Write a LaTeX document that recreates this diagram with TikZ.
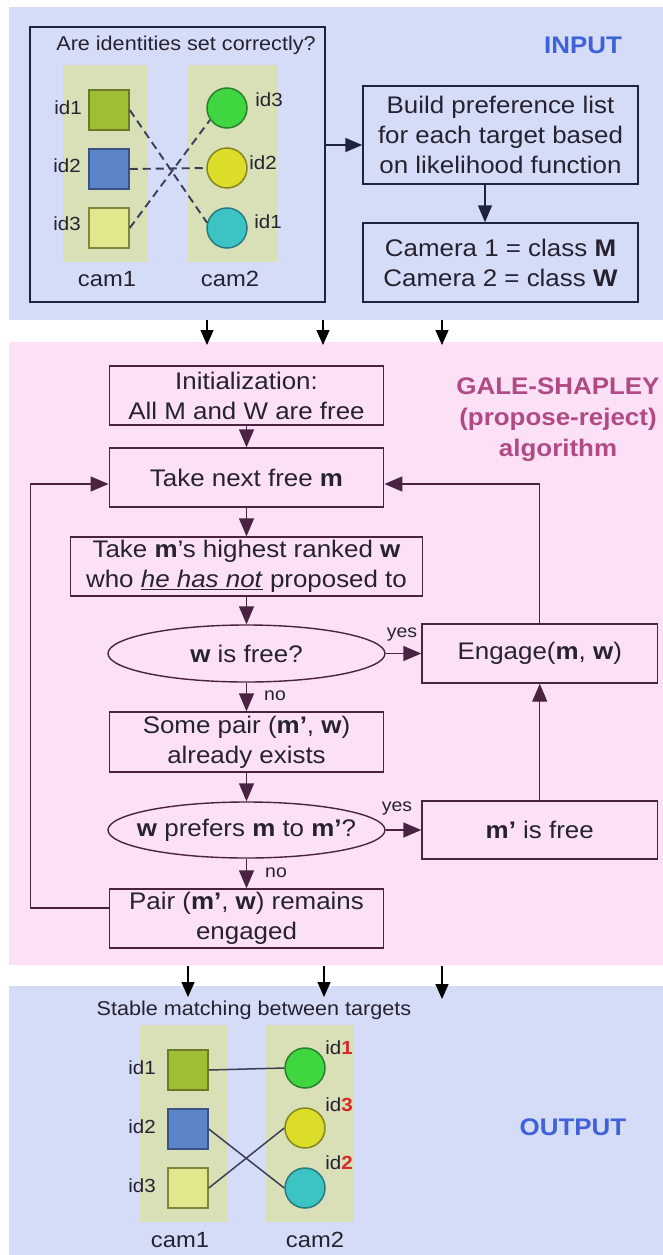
\documentclass[tikz,border=0pt]{standalone}
\usepackage{fontspec}
\setmainfont{Liberation Sans}[FakeStretch=1.08]
\usetikzlibrary{arrows.meta,shapes.geometric,calc}

\definecolor{inbg}{HTML}{D4DCF8}
\definecolor{pkbg}{HTML}{FCE0F5}
\definecolor{cambg}{HTML}{D9DFB6}
\definecolor{inline}{HTML}{1E2440}
\definecolor{pline}{HTML}{4A2341}
\definecolor{ink}{HTML}{262230}
\definecolor{titleblue}{HTML}{3F62D8}
\definecolor{titlepink}{HTML}{B04A84}
\definecolor{redd}{HTML}{D42A2A}
\definecolor{sqA}{HTML}{9FBE34}
\definecolor{sqAd}{HTML}{6A7A28}
\definecolor{sqB}{HTML}{5B84C9}
\definecolor{sqBd}{HTML}{3B5384}
\definecolor{sqC}{HTML}{E2E68C}
\definecolor{sqCd}{HTML}{84843E}
\definecolor{ciA}{HTML}{3FD63F}
\definecolor{ciAd}{HTML}{2A8030}
\definecolor{ciB}{HTML}{DCDC2A}
\definecolor{ciBd}{HTML}{86861E}
\definecolor{ciC}{HTML}{3CC3C3}
\definecolor{ciCd}{HTML}{2A7A80}
\definecolor{linkc}{HTML}{3A3F55}

\begin{document}
\begin{tikzpicture}[x=1pt,y=-1pt,
  ibox/.style={draw=inline, line width=1.4pt, align=center, inner sep=0pt,
    text=ink, font=\fontsize{24}{30}\selectfont},
  pbox/.style={draw=pline, line width=1.4pt, align=center, inner sep=0pt,
    text=ink, font=\fontsize{24}{30}\selectfont},
  pell/.style={pbox, ellipse},
  parr/.style={draw=pline, line width=1.4pt, -{Triangle[length=18pt,width=15pt]}},
  iarr/.style={draw=inline, line width=1.4pt, -{Triangle[length=17pt,width=14pt]}},
  garr/.style={draw=black, line width=1.3pt, -{Triangle[length=15pt,width=13pt]}},
  camcol/.style={fill=cambg, draw=none, inner sep=0pt},
  sq/.style={rectangle, minimum size=40, inner sep=0pt, line width=1.5pt},
  circ/.style={circle, minimum size=40, inner sep=0pt, line width=1.5pt},
  lbl/.style={text=ink, inner sep=0pt, font=\fontsize{19}{22}\selectfont},
  camlbl/.style={text=ink, inner sep=0pt, font=\fontsize{22}{26}\selectfont},
  small/.style={text=ink, inner sep=0pt, font=\fontsize{18}{20}\selectfont},
  dashl/.style={draw=linkc, line width=1.9pt, dash pattern=on 8pt off 5pt},
  solidl/.style={draw=linkc, line width=1.5pt},
  title/.style={inner sep=0pt, align=center, font=\bfseries\fontsize{24}{31}\selectfont}
]
\useasboundingbox (0,0) rectangle (663,1255);
\fill[white] (0,0) rectangle (663,1255);

% section backgrounds
\fill[inbg] (9,7) rectangle (663,320);
\fill[pkbg] (9,342) rectangle (663,965);
\fill[inbg] (9,986) rectangle (663,1255);

% ---------------- INPUT ----------------
\node[ibox, minimum width=295, minimum height=275] (idbox) at (177.5,164.5) {};
\node[text=ink, inner sep=0pt, font=\fontsize{20}{24}\selectfont] (quest) at (186,45) {Are identities set correctly?};

\node[camcol, minimum width=85.4, minimum height=197] (col1) at (105.3,163.5) {};
\node[camcol, minimum width=89, minimum height=197] (col2) at (232.5,163.5) {};

\node[sq, fill=sqA, draw=sqAd] (s1) at (109,110) {};
\node[sq, fill=sqB, draw=sqBd] (s2) at (109,169) {};
\node[sq, fill=sqC, draw=sqCd] (s3) at (109,228) {};
\node[circ, fill=ciA, draw=ciAd] (c1) at (227,108) {};
\node[circ, fill=ciB, draw=ciBd] (c2) at (227,168) {};
\node[circ, fill=ciC, draw=ciCd] (c3) at (227,228) {};

\node[lbl] (ls1) at (68,108) {id1};
\node[lbl] (ls2) at (67,166) {id2};
\node[lbl] (ls3) at (67,224) {id3};
\node[lbl] (lc1) at (269,100) {id3};
\node[lbl] (lc2) at (263,163) {id2};
\node[lbl] (lc3) at (268,222) {id1};

\draw[dashl] (s1.east) -- (c3.165);
\draw[dashl] (s2.east) -- (c2.west);
\draw[dashl] (s3.east) -- (c1.215);

\node[camlbl] (cam1) at (107,279) {cam1};
\node[camlbl] (cam2) at (230,279) {cam2};

\node[ibox, minimum width=275, minimum height=98] (build) at (500.5,135)
  {Build preference list\\for each target based\\on likelihood function};
\node[ibox, minimum width=275, minimum height=79] (camcls) at (500.5,262.5)
  {Camera 1 = class \textbf{M}\\Camera 2 = class \textbf{W}};
\node[title, text=titleblue] (tin) at (583,45) {INPUT};

\coordinate (ya) at (0,145);
\coordinate (xb) at (485,0);
\draw[iarr] (idbox.east |- ya) -- (build.west |- ya);
\draw[iarr] (build.south -| xb) -- (camcls.north -| xb);

% hand-over arrows into the algorithm
\coordinate (ga1) at (207,320); \coordinate (gb1) at (207,345);
\coordinate (ga2) at (323,320); \coordinate (gb2) at (323,345);
\coordinate (ga3) at (442,320); \coordinate (gb3) at (442,345);
\draw[garr] (ga1) -- (gb1);
\draw[garr] (ga2) -- (gb2);
\draw[garr] (ga3) -- (gb3);

% ---------------- GALE-SHAPLEY ----------------
\node[title, text=titlepink] (tgs) at (558,420) {GALE-SHAPLEY\\(propose-reject)\\algorithm};

\node[pbox, minimum width=274.5, minimum height=59] (init) at (246.5,395.5)
  {Initialization:\\All M and W are free};
\node[pbox, minimum width=274.5, minimum height=59] (next) at (246.5,477.5)
  {Take next free \textbf{m}};
\node[pbox, minimum width=352, minimum height=59] (take) at (246.5,566.5)
  {Take \textbf{m}'s highest ranked \textbf{w}\\who \underline{\textit{he has not}} proposed to};
\node[pell, minimum width=277, minimum height=57] (isfree) at (246.5,653.5)
  {\makebox[0pt]{\textbf{w} is free?}};
\node[pbox, minimum width=235.5, minimum height=59] (engage) at (539.75,653.5)
  {Engage(\textbf{m}, \textbf{w})};
\node[pbox, minimum width=274.5, minimum height=60] (some) at (246.5,742)
  {Some pair (\textbf{m'}, \textbf{w})\\already exists};
\node[pell, minimum width=277, minimum height=56] (prefers) at (246.5,830)
  {\makebox[0pt]{\textbf{w} prefers \textbf{m} to \textbf{m'}?}};
\node[pbox, minimum width=235.5, minimum height=58] (mfree) at (539.75,830)
  {\textbf{m'} is free};
\node[pbox, minimum width=274.5, minimum height=59] (pair) at (246.5,918.5)
  {Pair (\textbf{m'}, \textbf{w}) remains\\engaged};

\draw[parr] (init.south) -- (next.north);
\draw[parr] (next.south) -- (take.north);
\draw[parr] (take.south) -- (isfree.north);
\draw[parr] (isfree.south) -- (some.north);
\draw[parr] (some.south) -- (prefers.north);
\draw[parr] (prefers.south) -- (pair.north);
\draw[parr] (isfree.east) -- (engage.west);
\draw[parr] (prefers.east) -- (mfree.west);
\draw[parr] (mfree.north) -- (engage.south);

\node[small] (yes1) at (402,635) {yes};
\node[small] (yes2) at (397,809) {yes};
\node[small] (no1) at (275,696) {no};
\node[small] (no2) at (276,873) {no};

\coordinate (ly) at (0,484);
\coordinate (lx) at (30.5,0);
\coordinate (py) at (0,908);
\draw[parr] (engage.north) -- (engage.north |- ly) -- (next.east |- ly);
\draw[parr] (pair.west |- py) -| (lx |- ly) -- (next.west |- ly);

% hand-over arrows into the result
\coordinate (ha1) at (188,966); \coordinate (hb1) at (188,997);
\coordinate (ha2) at (324,966); \coordinate (hb2) at (324,997);
\coordinate (ha3) at (442,966); \coordinate (hb3) at (442,999);
\draw[garr] (ha1) -- (hb1);
\draw[garr] (ha2) -- (hb2);
\draw[garr] (ha3) -- (hb3);

% ---------------- OUTPUT ----------------
\node[text=ink, inner sep=0pt, font=\fontsize{20}{24}\selectfont] (stable) at (254,1010) {Stable matching between targets};

\node[camcol, minimum width=88.5, minimum height=197] (ocol1) at (183.75,1123.5) {};
\node[camcol, minimum width=88, minimum height=197] (ocol2) at (310,1123.5) {};

\node[sq, fill=sqA, draw=sqAd] (os1) at (188,1070) {};
\node[sq, fill=sqB, draw=sqBd] (os2) at (188,1129) {};
\node[sq, fill=sqC, draw=sqCd] (os3) at (188,1188) {};
\node[circ, fill=ciA, draw=ciAd] (oc1) at (305,1068) {};
\node[circ, fill=ciB, draw=ciBd] (oc2) at (305,1128) {};
\node[circ, fill=ciC, draw=ciCd] (oc3) at (305,1188) {};

\node[lbl] (ol1) at (142,1068) {id1};
\node[lbl] (ol2) at (142,1127) {id2};
\node[lbl] (ol3) at (142,1186) {id3};
\node[lbl] (or1) at (339,1048) {id\textbf{\color{redd}1}};
\node[lbl] (or2) at (339,1105) {id\textbf{\color{redd}3}};
\node[lbl] (or3) at (339,1163) {id\textbf{\color{redd}2}};

\draw[solidl] (os1.east) -- (oc1.west);
\draw[solidl] (os2.east) -- (oc3.west);
\draw[solidl] (os3.east) -- (oc2.west);

\node[camlbl] (ocam1) at (180,1240) {cam1};
\node[camlbl] (ocam2) at (315,1240) {cam2};

\node[title, text=titleblue] (tout) at (573,1127) {OUTPUT};
\end{tikzpicture}
\end{document}
